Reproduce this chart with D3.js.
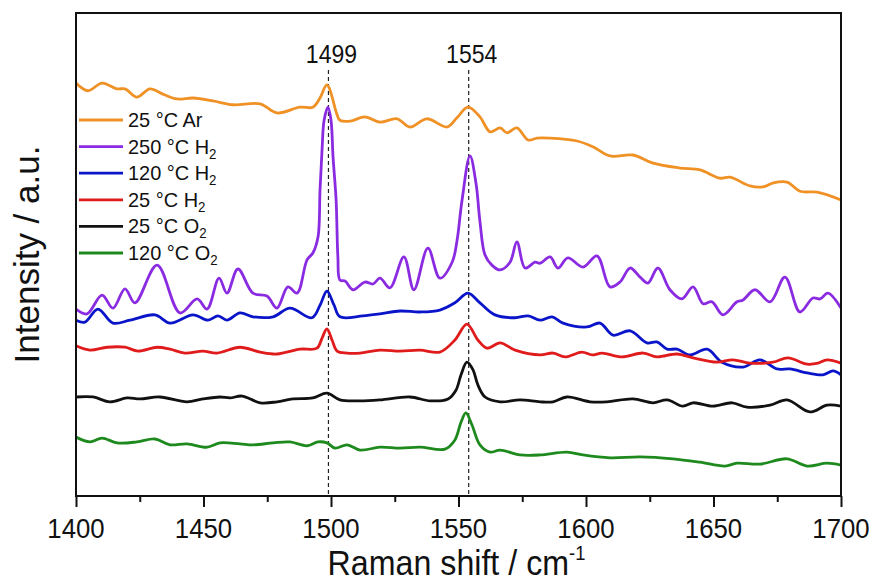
<!DOCTYPE html>
<html>
<head>
<meta charset="utf-8">
<script src="https://cdn.jsdelivr.net/npm/d3@7"></script>
<style>
  html, body { margin: 0; padding: 0; background: #fff; }
  svg { display: block; font-family: "Liberation Sans", Arial, sans-serif; }
</style>
</head>
<body>
<svg id="chart" width="874" height="581"></svg>
<script>
// Raman spectra, wavenumber (cm^-1) vs. intensity (a.u.), stacked traces
const xTicks = [1400, 1450, 1500, 1550, 1600, 1650, 1700];
const xMinorTicks = [1425, 1475, 1525, 1575, 1625, 1675];
const peakMarks = [1499, 1554];

const seriesNames = ["25 °C Ar", "250 °C H2", "120 °C H2", "25 °C H2", "25 °C O2", "120 °C O2"];
const seriesColors = ["#EF9125", "#8A2BE2", "#0A14C8", "#E01B1B", "#111111", "#1E8A1E"];

const arAt25 = [
  [1400,85.5],[1404.7,83.9],[1410.2,85.5],[1416.1,84.3],[1419.2,84.3],[1423.9,82.6],[1429,84.3],
  [1434.1,83.2],[1439.6,82.2],[1445.9,82.4],[1453.7,81.8],[1461.6,81.0],[1472.2,81.2],[1478.8,79.3],
  [1487.8,80.5],[1492.9,80.5],[1495.7,82.4],[1498.4,85.1],[1502.4,78.9],[1503.5,77.8],[1507.5,77.6],
  [1513.3,78.5],[1519.2,77.4],[1525.9,78.1],[1531,76.4],[1537.6,78.1],[1545.5,76.4],[1549.4,78.3],
  [1553.7,80.5],[1558.4,78.5],[1562.4,75.4],[1566.3,76.2],[1569,75.2],[1572.9,76.2],[1577.3,73.7],
  [1580.8,74.1],[1585.9,74.1],[1596.5,73.5],[1602.7,72.3],[1609.4,70.4],[1618.4,70.6],[1626.3,68.9],
  [1636.9,67.9],[1644.7,67.5],[1652.5,65.8],[1656.5,66.0],[1664.3,64.2],[1669.4,64.0],[1673.3,64.8],
  [1678.8,65.0],[1683.9,63.1],[1690.6,62.9],[1700,61.3]
];

const h2At250 = [
  [1400,38.7],[1404.3,37.7],[1410.2,41.6],[1414.5,38.9],[1419.2,42.9],[1423.1,40.0],[1431.8,47.8],
  [1440.8,37.9],[1447.5,40.8],[1451.4,38.7],[1456.1,45.1],[1459.2,42.0],[1463.5,47.0],[1469.4,42.0],
  [1474.9,41.4],[1478.8,38.9],[1483.1,43.3],[1486.7,42.0],[1490.6,48.9],[1492.9,50.3],[1494.9,53.6],
  [1495.7,63.4],[1496.5,71.8],[1497.3,77.8],[1498.8,80.5],[1500,77.8],[1500.8,70.2],[1502,61.3],
  [1502.7,49.5],[1503.5,44.7],[1505.5,44.5],[1508.6,42.7],[1513.3,44.3],[1516.5,43.9],[1519.2,45.1],
  [1523.1,43.1],[1528.6,49.5],[1532.5,42.7],[1538,51.3],[1542.7,45.1],[1547.5,48.4],[1549.4,52.8],
  [1551.4,61.3],[1554.5,70.4],[1556.9,64.6],[1558.4,56.9],[1560.4,49.9],[1563.1,47.8],[1566.3,46.8],
  [1570.2,48.4],[1572.9,52.6],[1576.1,47.2],[1580,48.4],[1582,48.2],[1585.9,49.5],[1589,47.2],
  [1592.9,49.3],[1598.8,47.4],[1604.3,49.7],[1609.4,43.3],[1613.3,44.3],[1617.3,47.2],[1621.2,45.3],
  [1624.3,44.1],[1628.2,47.2],[1632.9,42.7],[1637.6,40.8],[1642,43.3],[1645.9,39.8],[1649.4,40.2],
  [1653.7,37.5],[1659.2,40.2],[1661.6,40.6],[1666.3,42.7],[1672.2,40.2],[1678,45.3],[1683.9,38.1],
  [1689,41.0],[1691.8,40.8],[1694.9,42.0],[1700,38.9]
];

const h2At120 = [
  [1400,36.4],[1403.5,36.0],[1408.6,38.7],[1414.5,35.8],[1421.2,36.4],[1431,37.5],[1436.9,35.8],
  [1445.9,37.5],[1451.8,36.4],[1455.7,37.3],[1459.2,36.4],[1464.3,37.9],[1469.4,37.1],[1477.3,37.1],
  [1483.9,38.9],[1492.5,36.9],[1495.7,39.5],[1498.4,42.4],[1501.2,39.5],[1503.5,37.1],[1512.5,37.3],
  [1519.2,37.7],[1527.1,38.3],[1534.9,38.1],[1542.7,38.5],[1548.6,40.0],[1553.7,42.0],[1558.4,40.0],
  [1564.3,37.5],[1572.2,36.9],[1577.3,37.3],[1582,36.4],[1586.7,37.1],[1591,35.8],[1600.4,35.0],
  [1605.5,35.8],[1610.6,33.3],[1617.3,34.2],[1623.9,31.7],[1627.8,31.9],[1631.8,30.4],[1635.7,30.4],
  [1640.8,29.2],[1647.5,30.4],[1653.3,27.7],[1661.6,26.7],[1668.2,28.2],[1674.9,26.3],[1680,26.3],
  [1686.7,25.5],[1692.9,25.1],[1696.9,25.9],[1700,25.1]
];

const h2At25 = [
  [1400,31.1],[1405.5,30.2],[1412.2,30.8],[1419.2,30.8],[1424.3,30.0],[1431.8,30.8],[1436.9,30.4],
  [1442.7,29.6],[1449.8,30.0],[1455.3,29.6],[1464.3,30.8],[1472.2,29.8],[1478.8,29.4],[1487.8,30.4],
  [1494.5,30.6],[1496.5,32.7],[1498.4,34.6],[1500.4,32.3],[1502.4,30.0],[1506.3,29.6],[1511.4,29.6],
  [1519.2,30.2],[1527.1,30.0],[1534.9,30.2],[1542.7,29.8],[1548.6,32.3],[1553.3,35.6],[1557.6,32.3],
  [1561.2,30.6],[1566.3,31.7],[1572.2,30.2],[1582,29.2],[1587.1,29.6],[1591.8,28.8],[1598.4,29.8],
  [1602.4,29.2],[1606.3,29.6],[1614.1,28.8],[1622.4,29.6],[1627.8,28.8],[1635.7,29.4],[1642,28.6],
  [1651.4,27.7],[1657.6,28.2],[1664.3,27.5],[1673.3,27.7],[1679.2,28.6],[1686.7,27.3],[1691,27.5],
  [1694.5,28.2],[1700,27.5]
];

const o2At25 = [
  [1400,20.5],[1406.7,20.5],[1413.3,19.5],[1420,20.3],[1425.1,20.1],[1432.9,20.5],[1443.5,19.5],
  [1449.8,20.1],[1456.5,20.5],[1460.4,20.3],[1465.1,20.7],[1472.2,19.3],[1478.8,19.5],[1485.1,20.1],
  [1492.9,20.3],[1498.4,21.3],[1503.5,19.9],[1511.4,19.7],[1519.2,19.9],[1531,20.5],[1538.8,19.7],
  [1545.9,20.1],[1549,21.9],[1551,25.1],[1553.3,27.7],[1555.7,26.1],[1557.6,23.0],[1560.4,20.5],
  [1566.3,19.5],[1574.1,19.9],[1582,19.5],[1587.1,19.5],[1592.5,20.5],[1601.6,19.5],[1608.2,19.5],
  [1618.4,20.1],[1626.3,19.3],[1631.8,19.9],[1638,18.6],[1642,19.3],[1649.8,18.6],[1657.3,19.3],
  [1663.1,18.4],[1672.2,18.8],[1678.8,19.9],[1687.8,17.4],[1694.5,18.8],[1700,18.6]
];

const o2At120 = [
  [1400,12.2],[1405.5,11.2],[1410.2,12.0],[1416.1,11.0],[1423.9,11.2],[1431,11.8],[1436.9,10.6],
  [1443.5,10.8],[1451.4,10.1],[1456.5,11.0],[1464.3,10.8],[1469.4,10.6],[1477.3,11.0],[1483.9,11.2],
  [1490.6,10.4],[1494.9,11.2],[1498.4,11.0],[1501.6,9.9],[1506.3,10.6],[1511.4,9.5],[1519.2,10.1],
  [1527.1,9.9],[1534.9,10.1],[1544.7,9.7],[1548.6,11.6],[1551,15.3],[1552.9,17.2],[1555.3,14.7],
  [1558.4,10.6],[1562.4,9.1],[1566.3,9.5],[1574.1,8.5],[1582,8.5],[1592.5,9.1],[1598.8,8.5],
  [1609.4,7.9],[1621.2,8.1],[1634.1,7.7],[1644.7,7.0],[1654.5,6.2],[1659.2,6.8],[1668.2,6.6],
  [1678.8,7.7],[1686.7,6.2],[1694.5,6.8],[1700,6.4]
];

const seriesData = [arAt25, h2At250, h2At120, h2At25, o2At25, o2At120];

const W = 874, H = 581;
const margin = { top: 13, right: 33, bottom: 85, left: 76 };
const svg = d3.select("#chart");

const x = d3.scaleLinear().domain([1400, 1700]).range([margin.left, W - margin.right]);
const y = d3.scaleLinear().domain([0, 100]).range([H - margin.bottom, margin.top]);

const squeeze = 0.92; // glyph width factor

function label(g, px, py, anchor, size, sx = squeeze) {
  return g.append("text")
    .attr("transform", `translate(${px},${py}) scale(${sx},1)`)
    .attr("text-anchor", anchor)
    .attr("font-size", size)
    .attr("fill", "#111");
}

// spectra
const line = d3.line()
  .x(d => x(d[0]))
  .y(d => y(d[1]))
  .curve(d3.curveCatmullRom.alpha(0.5));

const plot = svg.append("g");
plot.append("defs").append("clipPath").attr("id", "clip")
  .append("rect")
  .attr("x", x(1400)).attr("y", y(100))
  .attr("width", x(1700) - x(1400)).attr("height", y(0) - y(100));

// reference lines at the two band positions
plot.selectAll("line.peak")
  .data(peakMarks)
  .join("line")
  .attr("class", "peak")
  .attr("x1", d => x(d)).attr("x2", d => x(d))
  .attr("y1", y(88.2)).attr("y2", y(0))
  .attr("stroke", "#222")
  .attr("stroke-width", 1.2)
  .attr("stroke-dasharray", "4,3");

plot.append("g").attr("clip-path", "url(#clip)")
  .selectAll("path")
  .data(seriesData)
  .join("path")
  .attr("d", line)
  .attr("fill", "none")
  .attr("stroke", (d, i) => seriesColors[i])
  .attr("stroke-width", 2.8)
  .attr("stroke-linejoin", "round");

peakMarks.forEach(p => {
  label(svg, x(p) + 3, y(89.7), "middle", 25).text(p);
});

// x axis with major and minor ticks
const xAxis = svg.append("g")
  .attr("transform", `translate(0,${y(0)})`)
  .call(d3.axisBottom(x).tickValues(xTicks).tickSize(11).tickFormat(""));
xAxis.select(".domain").remove();
xAxis.selectAll(".tick line").attr("stroke", "#111").attr("stroke-width", 2);

const xMinor = svg.append("g")
  .attr("transform", `translate(0,${y(0)})`)
  .call(d3.axisBottom(x).tickValues(xMinorTicks).tickSize(6).tickFormat(""));
xMinor.select(".domain").remove();
xMinor.selectAll(".tick line").attr("stroke", "#111").attr("stroke-width", 2);

xTicks.forEach(t => {
  label(svg, x(t), y(0) + 42, "middle", 28).text(t);
});

// frame
svg.append("rect")
  .attr("x", x(1400)).attr("y", y(100))
  .attr("width", x(1700) - x(1400)).attr("height", y(0) - y(100))
  .attr("fill", "none")
  .attr("stroke", "#111")
  .attr("stroke-width", 2);

// axis titles
const xt = label(svg, (x(1400) + x(1700)) / 2 - 2, 575, "middle", 35);
xt.append("tspan").text("Raman shift / cm");
xt.append("tspan").attr("font-size", 20).attr("dy", -15).text("-1");

svg.append("text")
  .attr("transform", `translate(39,${(y(0) + y(100)) / 2}) rotate(-90)`)
  .attr("text-anchor", "middle")
  .attr("font-size", 35)
  .attr("fill", "#111")
  .text("Intensity / a.u.");

// legend
const legend = svg.append("g");
const rowY = i => 120 + i * 26.6;
seriesNames.forEach((name, i) => {
  legend.append("line")
    .attr("x1", 79).attr("x2", 123)
    .attr("y1", rowY(i)).attr("y2", rowY(i))
    .attr("stroke", seriesColors[i])
    .attr("stroke-width", 2.8);
  const t = label(legend, 128, rowY(i) + 7, "start", 21, 0.95);
  const m = name.match(/^(.*[HO])2$/);
  if (m) {
    t.append("tspan").text(m[1]);
    t.append("tspan").attr("font-size", 14).attr("dy", 5).text("2");
  } else {
    t.text(name);
  }
});
</script>
</body>
</html>
